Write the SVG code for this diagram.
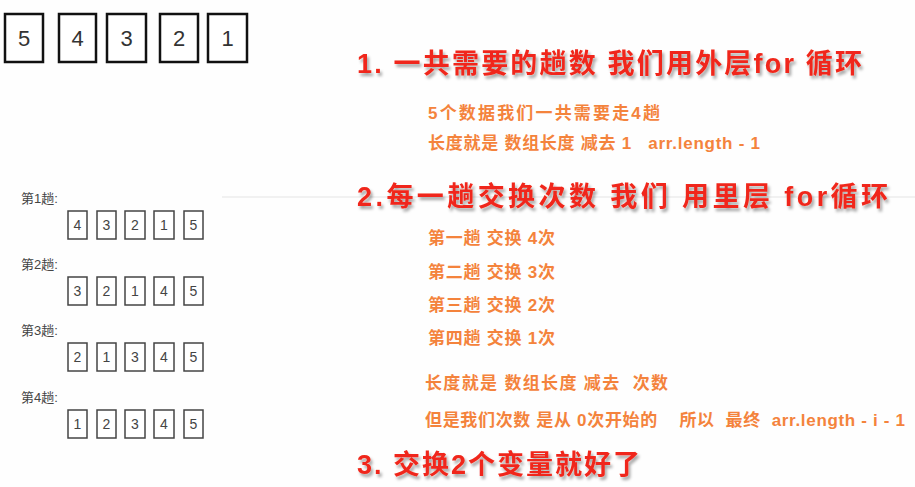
<svg xmlns="http://www.w3.org/2000/svg" width="915" height="487" viewBox="0 0 915 487">
<defs>
<filter id="sh" x="-5%" y="-30%" width="110%" height="170%">
<feGaussianBlur in="SourceAlpha" stdDeviation="1.6"/>
<feOffset dx="2" dy="3" result="b"/>
<feFlood flood-color="#000" flood-opacity="0.35"/>
<feComposite in2="b" operator="in"/>
<feMerge><feMergeNode/><feMergeNode in="SourceGraphic"/></feMerge>
</filter>
<style>
.bg{fill:#fefefe}
.big rect{fill:#fff;stroke:#111;stroke-width:2.5}
.big text{font-family:"Liberation Sans","Noto Sans CJK SC",sans-serif;font-size:22px;fill:#333;text-anchor:middle}
.sm rect{fill:#fff;stroke:#444;stroke-width:1.5}
.sm text{font-family:"Liberation Sans","Noto Sans CJK SC",sans-serif;font-size:14px;fill:#444;text-anchor:middle}
.lbl{font-family:"Liberation Sans","Noto Sans CJK SC",sans-serif;font-size:13px;fill:#444}
.h{font-family:"Liberation Sans","Noto Sans CJK SC",sans-serif;font-size:27px;font-weight:bold;fill:#f0281a;white-space:pre}
.o{font-family:"Liberation Sans","Noto Sans CJK SC",sans-serif;font-size:17px;font-weight:bold;fill:#f4833c;white-space:pre}
</style>
</defs>
<rect class="bg" x="0" y="0" width="915" height="487"/>
<line x1="222" y1="197" x2="915" y2="197" stroke="#ececec" stroke-width="1.5"/>

<g id="array" class="big">
<rect x="5" y="14" width="38" height="48"/><text x="24" y="46">5</text>
<rect x="59" y="14" width="37" height="48"/><text x="77.5" y="46">4</text>
<rect x="107" y="14" width="39" height="48"/><text x="126.5" y="46">3</text>
<rect x="160" y="14" width="38" height="48"/><text x="179" y="46">2</text>
<rect x="208" y="14" width="39" height="48"/><text x="227.5" y="46">1</text>
</g>

<g id="pass1">
<text class="lbl" x="21" y="203">第1趟:</text>
<g class="sm">
<rect x="68" y="211" width="19" height="28"/><text x="77.5" y="230">4</text>
<rect x="97" y="211" width="19" height="28"/><text x="106.5" y="230">3</text>
<rect x="125" y="211" width="20" height="28"/><text x="135" y="230">2</text>
<rect x="154" y="211" width="20" height="28"/><text x="164" y="230">1</text>
<rect x="184" y="211" width="19" height="28"/><text x="193.5" y="230">5</text>
</g>
</g>
<g id="pass2">
<text class="lbl" x="21" y="269">第2趟:</text>
<g class="sm">
<rect x="68" y="277" width="19" height="28"/><text x="77.5" y="296">3</text>
<rect x="97" y="277" width="19" height="28"/><text x="106.5" y="296">2</text>
<rect x="125" y="277" width="20" height="28"/><text x="135" y="296">1</text>
<rect x="154" y="277" width="20" height="28"/><text x="164" y="296">4</text>
<rect x="184" y="277" width="19" height="28"/><text x="193.5" y="296">5</text>
</g>
</g>
<g id="pass3">
<text class="lbl" x="21" y="335">第3趟:</text>
<g class="sm">
<rect x="68" y="343" width="19" height="28"/><text x="77.5" y="362">2</text>
<rect x="97" y="343" width="19" height="28"/><text x="106.5" y="362">1</text>
<rect x="125" y="343" width="20" height="28"/><text x="135" y="362">3</text>
<rect x="154" y="343" width="20" height="28"/><text x="164" y="362">4</text>
<rect x="184" y="343" width="19" height="28"/><text x="193.5" y="362">5</text>
</g>
</g>
<g id="pass4">
<text class="lbl" x="21" y="402">第4趟:</text>
<g class="sm">
<rect x="68" y="410" width="19" height="28"/><text x="77.5" y="429">1</text>
<rect x="97" y="410" width="19" height="28"/><text x="106.5" y="429">2</text>
<rect x="125" y="410" width="20" height="28"/><text x="135" y="429">3</text>
<rect x="154" y="410" width="20" height="28"/><text x="164" y="429">4</text>
<rect x="184" y="410" width="19" height="28"/><text x="193.5" y="429">5</text>
</g>
</g>

<g id="step1">
<text class="h" filter="url(#sh)" x="357" y="73" textLength="505" lengthAdjust="spacing">1. 一共需要的趟数 我们用外层for 循环</text>
<text class="o" x="428" y="119" textLength="232" lengthAdjust="spacing">5个数据我们一共需要走4趟</text>
<text class="o" x="428" y="149" textLength="332" lengthAdjust="spacing">长度就是 数组长度 减去 1   arr.length - 1</text>
</g>
<g id="step2">
<text class="h" filter="url(#sh)" x="357" y="206" textLength="531" lengthAdjust="spacing">2.每一趟交换次数 我们 用里层 for循环</text>
<text class="o" x="428" y="244" textLength="127" lengthAdjust="spacing">第一趟 交换 4次</text>
<text class="o" x="428" y="278" textLength="127" lengthAdjust="spacing">第二趟 交换 3次</text>
<text class="o" x="428" y="311" textLength="127" lengthAdjust="spacing">第三趟 交换 2次</text>
<text class="o" x="428" y="344" textLength="127" lengthAdjust="spacing">第四趟 交换 1次</text>
<text class="o" x="425" y="389" textLength="243" lengthAdjust="spacing">长度就是 数组长度 减去  次数</text>
<text class="o" x="425" y="426" textLength="480" lengthAdjust="spacing">但是我们次数 是从 0次开始的    所以  最终  arr.length - i - 1</text>
</g>
<g id="step3">
<text class="h" filter="url(#sh)" x="357" y="474" textLength="283" lengthAdjust="spacing">3. 交换2个变量就好了</text>
</g>
</svg>
